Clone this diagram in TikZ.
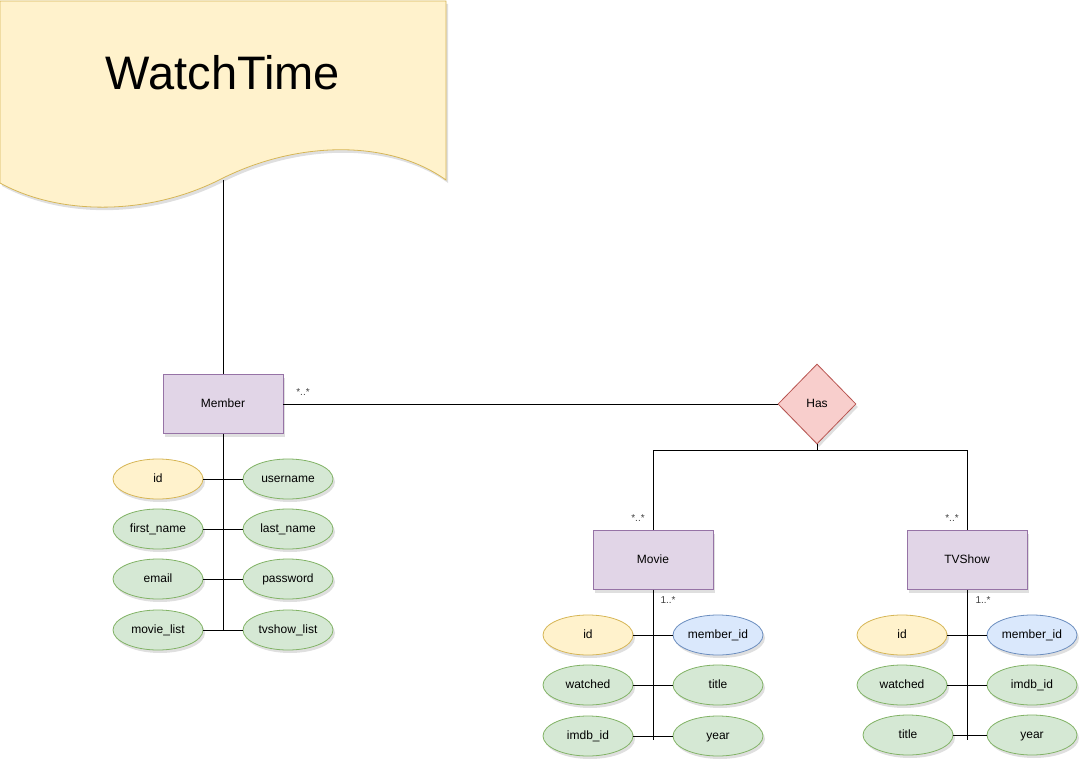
\documentclass[tikz,border=0pt]{standalone}
\usepackage{fontspec}
\setmainfont{Liberation Sans}
\usetikzlibrary{shapes.geometric,shadows}

\definecolor{docfill}{HTML}{FFF2CC}
\definecolor{docline}{HTML}{D6B656}
\definecolor{entfill}{HTML}{E1D5E7}
\definecolor{entline}{HTML}{9673A6}
\definecolor{relfill}{HTML}{F8CECC}
\definecolor{relline}{HTML}{B85450}
\definecolor{attrfill}{HTML}{D5E8D4}
\definecolor{attrline}{HTML}{82B366}
\definecolor{fkfill}{HTML}{DAE8FC}
\definecolor{fkline}{HTML}{6C8EBF}

\begin{document}
\begin{tikzpicture}[x=1pt,y=-1pt,line width=0.8pt,
	shade/.style={drop shadow={shadow xshift=2pt,shadow yshift=-3pt,opacity=0.25}},
	label text/.style={font=\fontsize{12}{14}\selectfont,text height=8.6pt,text depth=2.6pt},
	entity/.style={draw=entline,fill=entfill,minimum width=120pt,minimum height=59pt,label text,shade},
	rel/.style={diamond,draw=relline,fill=relfill,minimum width=78pt,minimum height=80pt,inner sep=0pt,label text,shade},
	attr/.style={ellipse,draw=attrline,fill=attrfill,minimum width=90pt,minimum height=40pt,inner sep=0pt,label text,shade},
	key/.style={attr,draw=docline,fill=docfill},
	fkey/.style={attr,draw=fkline,fill=fkfill},
	mult/.style={font=\fontsize{10}{12}\selectfont,text=black!75}]
					\useasboundingbox (0,0) rectangle (1080,760);
					% title document
					\filldraw[draw=docline,fill=docfill,shade] (0,1) -- (446,1) -- (446,180)
						.. controls (390,140) and (300,140) .. (223,178)
						.. controls (150,216) and (60,216) .. (0,183) -- cycle;
					\node[font=\fontsize{47}{56}\selectfont] (title) at (223,73) {WatchTime};
					\coordinate (titlefoot) at (223,180);
					% entities
					\node[entity] (member) at (223,404) {Member};
					\node[rel] (has) at (817,404) {Has};
					\node[entity] (movie) at (653,560) {Movie};
					\node[entity] (tvshow) at (967,560) {TVShow};
					\coordinate (fork) at (817,450);
					\draw (titlefoot) -- (member);
					\draw (member) -- (has);
					\draw (has) -- (fork);
					\draw (fork) -| (movie);
					\draw (fork) -| (tvshow);
					% multiplicities
					\node[mult] (mmult) at (303,392) {*..*};
					\node[mult] (mvmult) at (638,518) {*..*};
					\node[mult] (mvattr) at (668,600) {1..*};
					\node[mult] (tvmult) at (952,518) {*..*};
					\node[mult] (tvattr) at (983,600) {1..*};
					% member attributes
					\coordinate (mend) at (223,630);
					\draw (member) -- (mend);
					\node[key] (mid) at (158,479) {id};
					\node[attr] (muser) at (288,479) {username};
					\node[attr] (mfirst) at (158,529) {first\_name};
					\node[attr] (mlast) at (288,529) {last\_name};
					\node[attr] (memail) at (158,579) {email};
					\node[attr] (mpass) at (288,579) {password};
					\node[attr] (mmovies) at (158,630) {movie\_list};
					\node[attr] (mshows) at (288,630) {tvshow\_list};
					\draw (mid) -- (muser);
					\draw (mfirst) -- (mlast);
					\draw (memail) -- (mpass);
					\draw (mmovies) -- (mshows);
					% movie attributes
					\coordinate (mvend) at (653,740);
					\draw (movie) -- (mvend);
					\node[key] (mvid) at (588,635) {id};
					\node[fkey] (mvmember) at (718,635) {member\_id};
					\node[attr] (mvwatched) at (588,685) {watched};
					\node[attr] (mvtitle) at (718,685) {title};
					\node[attr] (mvimdb) at (588,736) {imdb\_id};
					\node[attr] (mvyear) at (718,736) {year};
					\draw (mvid) -- (mvmember);
					\draw (mvwatched) -- (mvtitle);
					\draw (mvimdb) -- (mvyear);
					% tvshow attributes
					\coordinate (tvend) at (967,740);
					\draw (tvshow) -- (tvend);
					\node[key] (tvid) at (902,635) {id};
					\node[fkey] (tvmember) at (1032,635) {member\_id};
					\node[attr] (tvwatched) at (902,685) {watched};
					\node[attr] (tvimdb) at (1032,685) {imdb\_id};
					\node[attr] (tvtitle) at (908,735) {title};
					\node[attr] (tvyear) at (1032,735) {year};
					\draw (tvid) -- (tvmember);
					\draw (tvwatched) -- (tvimdb);
					\draw (tvtitle) -- (tvyear);
				\end{tikzpicture}
\end{document}
